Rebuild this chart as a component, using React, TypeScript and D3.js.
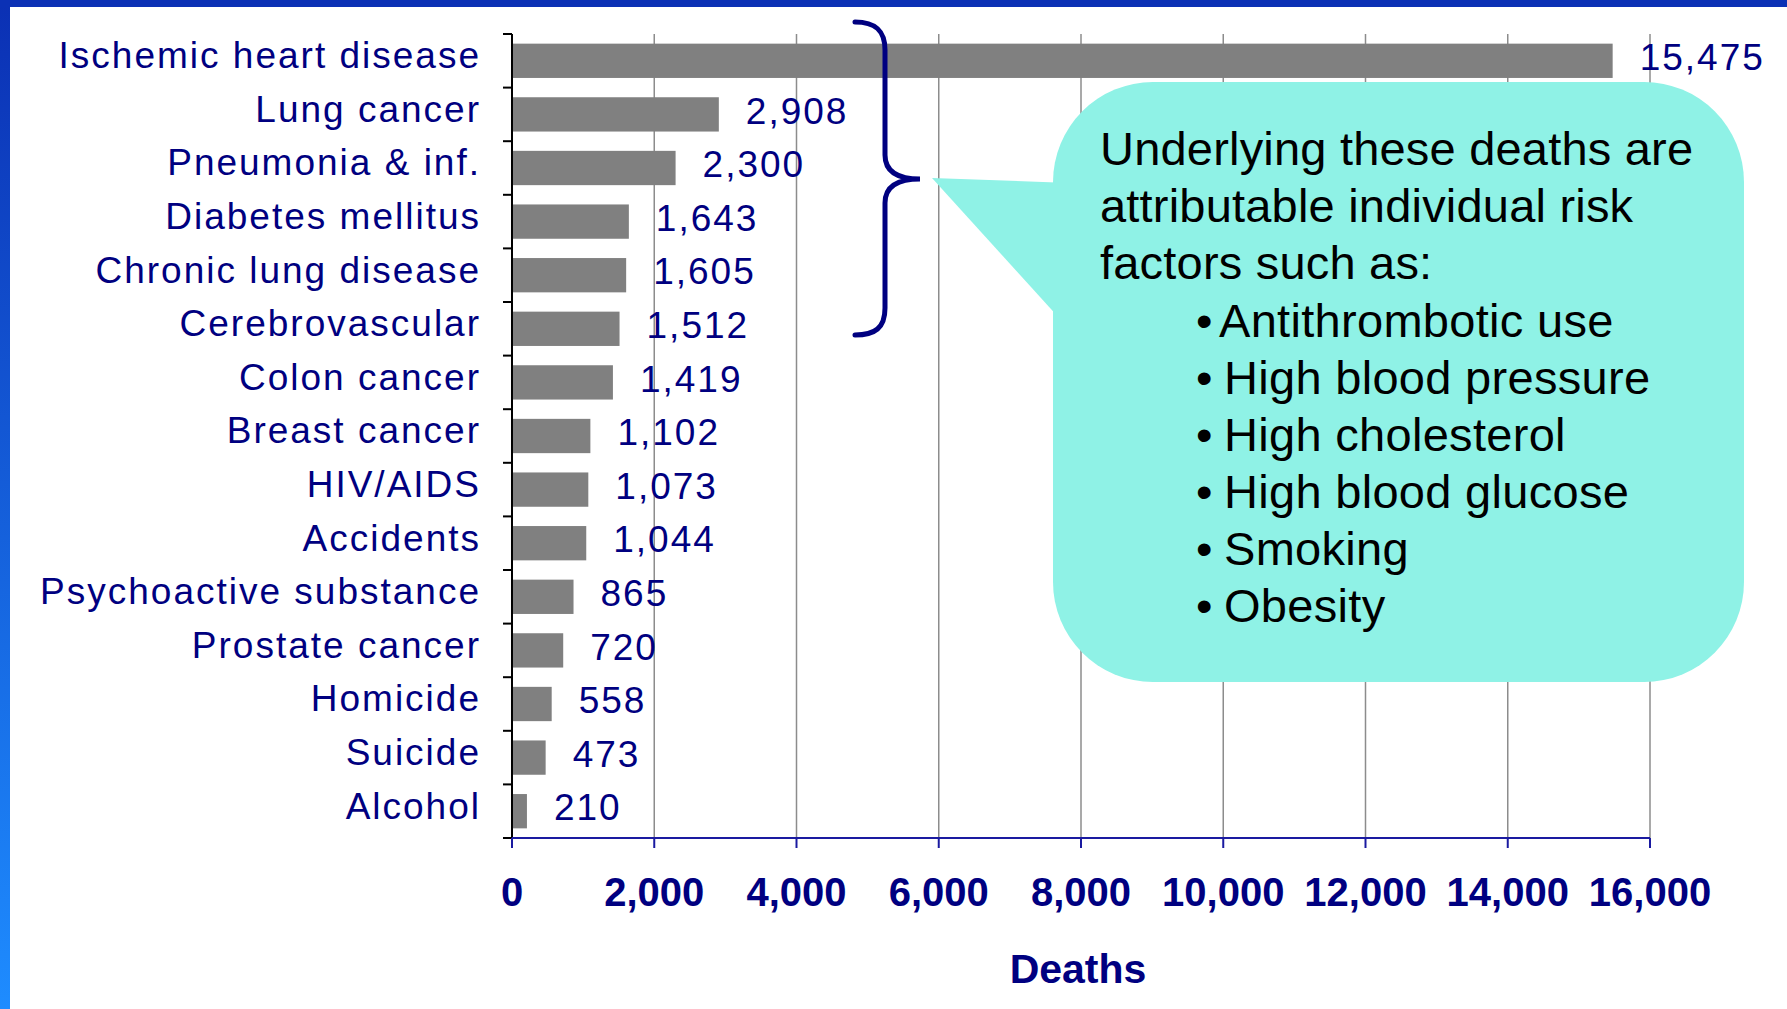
import React from "react";
import * as d3 from "d3";

const causes = [
  "Ischemic heart disease",
  "Lung cancer",
  "Pneumonia & inf.",
  "Diabetes mellitus",
  "Chronic lung disease",
  "Cerebrovascular",
  "Colon cancer",
  "Breast cancer",
  "HIV/AIDS",
  "Accidents",
  "Psychoactive substance",
  "Prostate cancer",
  "Homicide",
  "Suicide",
  "Alcohol",
];
const deaths = [15475, 2908, 2300, 1643, 1605, 1512, 1419, 1102, 1073, 1044, 865, 720, 558, 473, 210];
const xTicks = [0, 2000, 4000, 6000, 8000, 10000, 12000, 14000, 16000];
const calloutLines = ["Underlying these deaths are", "attributable individual risk", "factors such as:"];
const riskFactors = [
  "Antithrombotic use",
  "High blood pressure",
  "High cholesterol",
  "High blood glucose",
  "Smoking",
  "Obesity",
];

const W = 1787;
const H = 1009;
const NAVY = "#000080";
const FONT = "'Liberation Sans', Arial, sans-serif";

export default function App() {
  const ref = React.useRef<SVGSVGElement>(null);

  React.useEffect(() => {
    const svg = d3.select(ref.current);
    svg.selectAll("*").remove();

    // slide frame
    const defs = svg.append("defs");
    const grad = defs
      .append("linearGradient")
      .attr("id", "leftbar")
      .attr("x1", "0%")
      .attr("y1", "0%")
      .attr("x2", "0%")
      .attr("y2", "100%");
    grad.append("stop").attr("offset", "0%").attr("stop-color", "#0b30b4");
    grad.append("stop").attr("offset", "100%").attr("stop-color", "#1e8cff");

    svg.append("rect").attr("width", W).attr("height", H).attr("fill", "#fff");
    svg.append("rect").attr("width", 10).attr("height", H).attr("fill", "url(#leftbar)");
    svg.append("rect").attr("width", W).attr("height", 7).attr("fill", "#0b31b5");

    const x = d3.scaleLinear().domain([0, 16000]).range([512, 1650]);
    const y = d3
      .scaleBand<string>()
      .domain(causes)
      .range([34, 838])
      .paddingInner(0.36)
      .paddingOuter(0.18);
    const step = y.step();
    const top = 34;
    const bottom = 838;

    // gridlines
    svg
      .append("g")
      .selectAll("line")
      .data(xTicks.slice(1))
      .join("line")
      .attr("x1", (d) => x(d))
      .attr("x2", (d) => x(d))
      .attr("y1", top)
      .attr("y2", bottom)
      .attr("stroke", "#8c8c8c")
      .attr("stroke-width", 1.5);

    // bars
    svg
      .append("g")
      .selectAll("rect")
      .data(causes)
      .join("rect")
      .attr("x", x(0))
      .attr("y", (d) => y(d)!)
      .attr("width", (d, i) => x(deaths[i]) - x(0))
      .attr("height", y.bandwidth())
      .attr("fill", "#808080");

    // y axis
    svg
      .append("line")
      .attr("x1", x(0))
      .attr("x2", x(0))
      .attr("y1", top)
      .attr("y2", bottom)
      .attr("stroke", "#000")
      .attr("stroke-width", 2);
    svg
      .append("g")
      .selectAll("line")
      .data(d3.range(causes.length + 1))
      .join("line")
      .attr("x1", x(0) - 9)
      .attr("x2", x(0))
      .attr("y1", (i) => top + i * step)
      .attr("y2", (i) => top + i * step)
      .attr("stroke", "#000")
      .attr("stroke-width", 2);

    // category labels
    svg
      .append("g")
      .selectAll("text")
      .data(causes)
      .join("text")
      .attr("x", 481)
      .attr("y", (d) => y(d)! + y.bandwidth() / 2)
      .attr("dy", "0.2em")
      .attr("text-anchor", "end")
      .attr("font-family", FONT)
      .attr("font-size", 37)
      .attr("letter-spacing", 2)
      .attr("fill", NAVY)
      .text((d) => d);

    // value labels
    const fmt = d3.format(",");
    svg
      .append("g")
      .selectAll("text")
      .data(causes)
      .join("text")
      .attr("x", (d, i) => x(deaths[i]) + 27)
      .attr("y", (d) => y(d)! + y.bandwidth() / 2)
      .attr("dy", "0.25em")
      .attr("font-family", FONT)
      .attr("font-size", 37)
      .attr("letter-spacing", 2)
      .attr("fill", NAVY)
      .text((d, i) => fmt(deaths[i]));

    // x axis
    svg
      .append("line")
      .attr("x1", x(0))
      .attr("x2", x(16000))
      .attr("y1", bottom)
      .attr("y2", bottom)
      .attr("stroke", "#1a1aa0")
      .attr("stroke-width", 2);
    svg
      .append("g")
      .selectAll("line")
      .data(xTicks)
      .join("line")
      .attr("x1", (d) => x(d))
      .attr("x2", (d) => x(d))
      .attr("y1", bottom)
      .attr("y2", bottom + 10)
      .attr("stroke", "#1a1aa0")
      .attr("stroke-width", 2);
    svg
      .append("g")
      .selectAll("text")
      .data(xTicks)
      .join("text")
      .attr("x", (d) => x(d))
      .attr("y", 906)
      .attr("text-anchor", "middle")
      .attr("font-family", FONT)
      .attr("font-weight", "bold")
      .attr("font-size", 40)
      .attr("fill", NAVY)
      .text((d) => fmt(d));
    svg
      .append("text")
      .attr("x", 1078)
      .attr("y", 983)
      .attr("text-anchor", "middle")
      .attr("font-family", FONT)
      .attr("font-weight", "bold")
      .attr("font-size", 41)
      .attr("fill", NAVY)
      .text("Deaths");

    // brace
    const brace = d3.path();
    brace.moveTo(855, 22);
    brace.bezierCurveTo(875, 22, 885, 30, 885, 50);
    brace.lineTo(885, 155);
    brace.bezierCurveTo(885, 172, 898, 179, 920, 179);
    brace.bezierCurveTo(898, 179, 885, 186, 885, 203);
    brace.lineTo(885, 308);
    brace.bezierCurveTo(885, 328, 875, 335, 855, 335);
    svg
      .append("path")
      .attr("d", brace.toString())
      .attr("fill", "none")
      .attr("stroke", NAVY)
      .attr("stroke-width", 5)
      .attr("stroke-linecap", "round");

    // callout
    const cx0 = 1053, cy0 = 82, cx1 = 1744, cy1 = 682;
    svg
      .append("path")
      .attr("d", `M932,178 L1070,183 L1070,330 Z`)
      .attr("fill", "#8ff2e6");
    svg
      .append("rect")
      .attr("x", cx0)
      .attr("y", cy0)
      .attr("width", cx1 - cx0)
      .attr("height", cy1 - cy0)
      .attr("rx", 100)
      .attr("fill", "#8ff2e6");

    svg
      .append("g")
      .selectAll("text")
      .data(calloutLines)
      .join("text")
      .attr("x", 1100)
      .attr("y", (d, i) => 165 + i * 57)
      .attr("font-family", FONT)
      .attr("font-size", 47)
      .attr("letter-spacing", 0.2)
      .attr("fill", "#000")
      .text((d) => d);

    const bullets = svg
      .append("g")
      .selectAll("g")
      .data(riskFactors)
      .join("g")
      .attr("transform", (d, i) => `translate(0,${337 + i * 57})`);
    bullets
      .append("text")
      .attr("x", 1196)
      .attr("font-family", FONT)
      .attr("font-size", 47)
      .attr("fill", "#000")
      .text("•");
    bullets
      .append("text")
      .attr("x", (d, i) => (i === 0 ? 1219 : 1224))
      .attr("font-family", FONT)
      .attr("font-size", 47)
      .attr("letter-spacing", 0.3)
      .attr("fill", "#000")
      .text((d) => d);
  }, []);

  return (
    <svg
      ref={ref}
      width={W}
      height={H}
      style={{ position: "absolute", left: 0, top: 0, display: "block" }}
    />
  );
}
